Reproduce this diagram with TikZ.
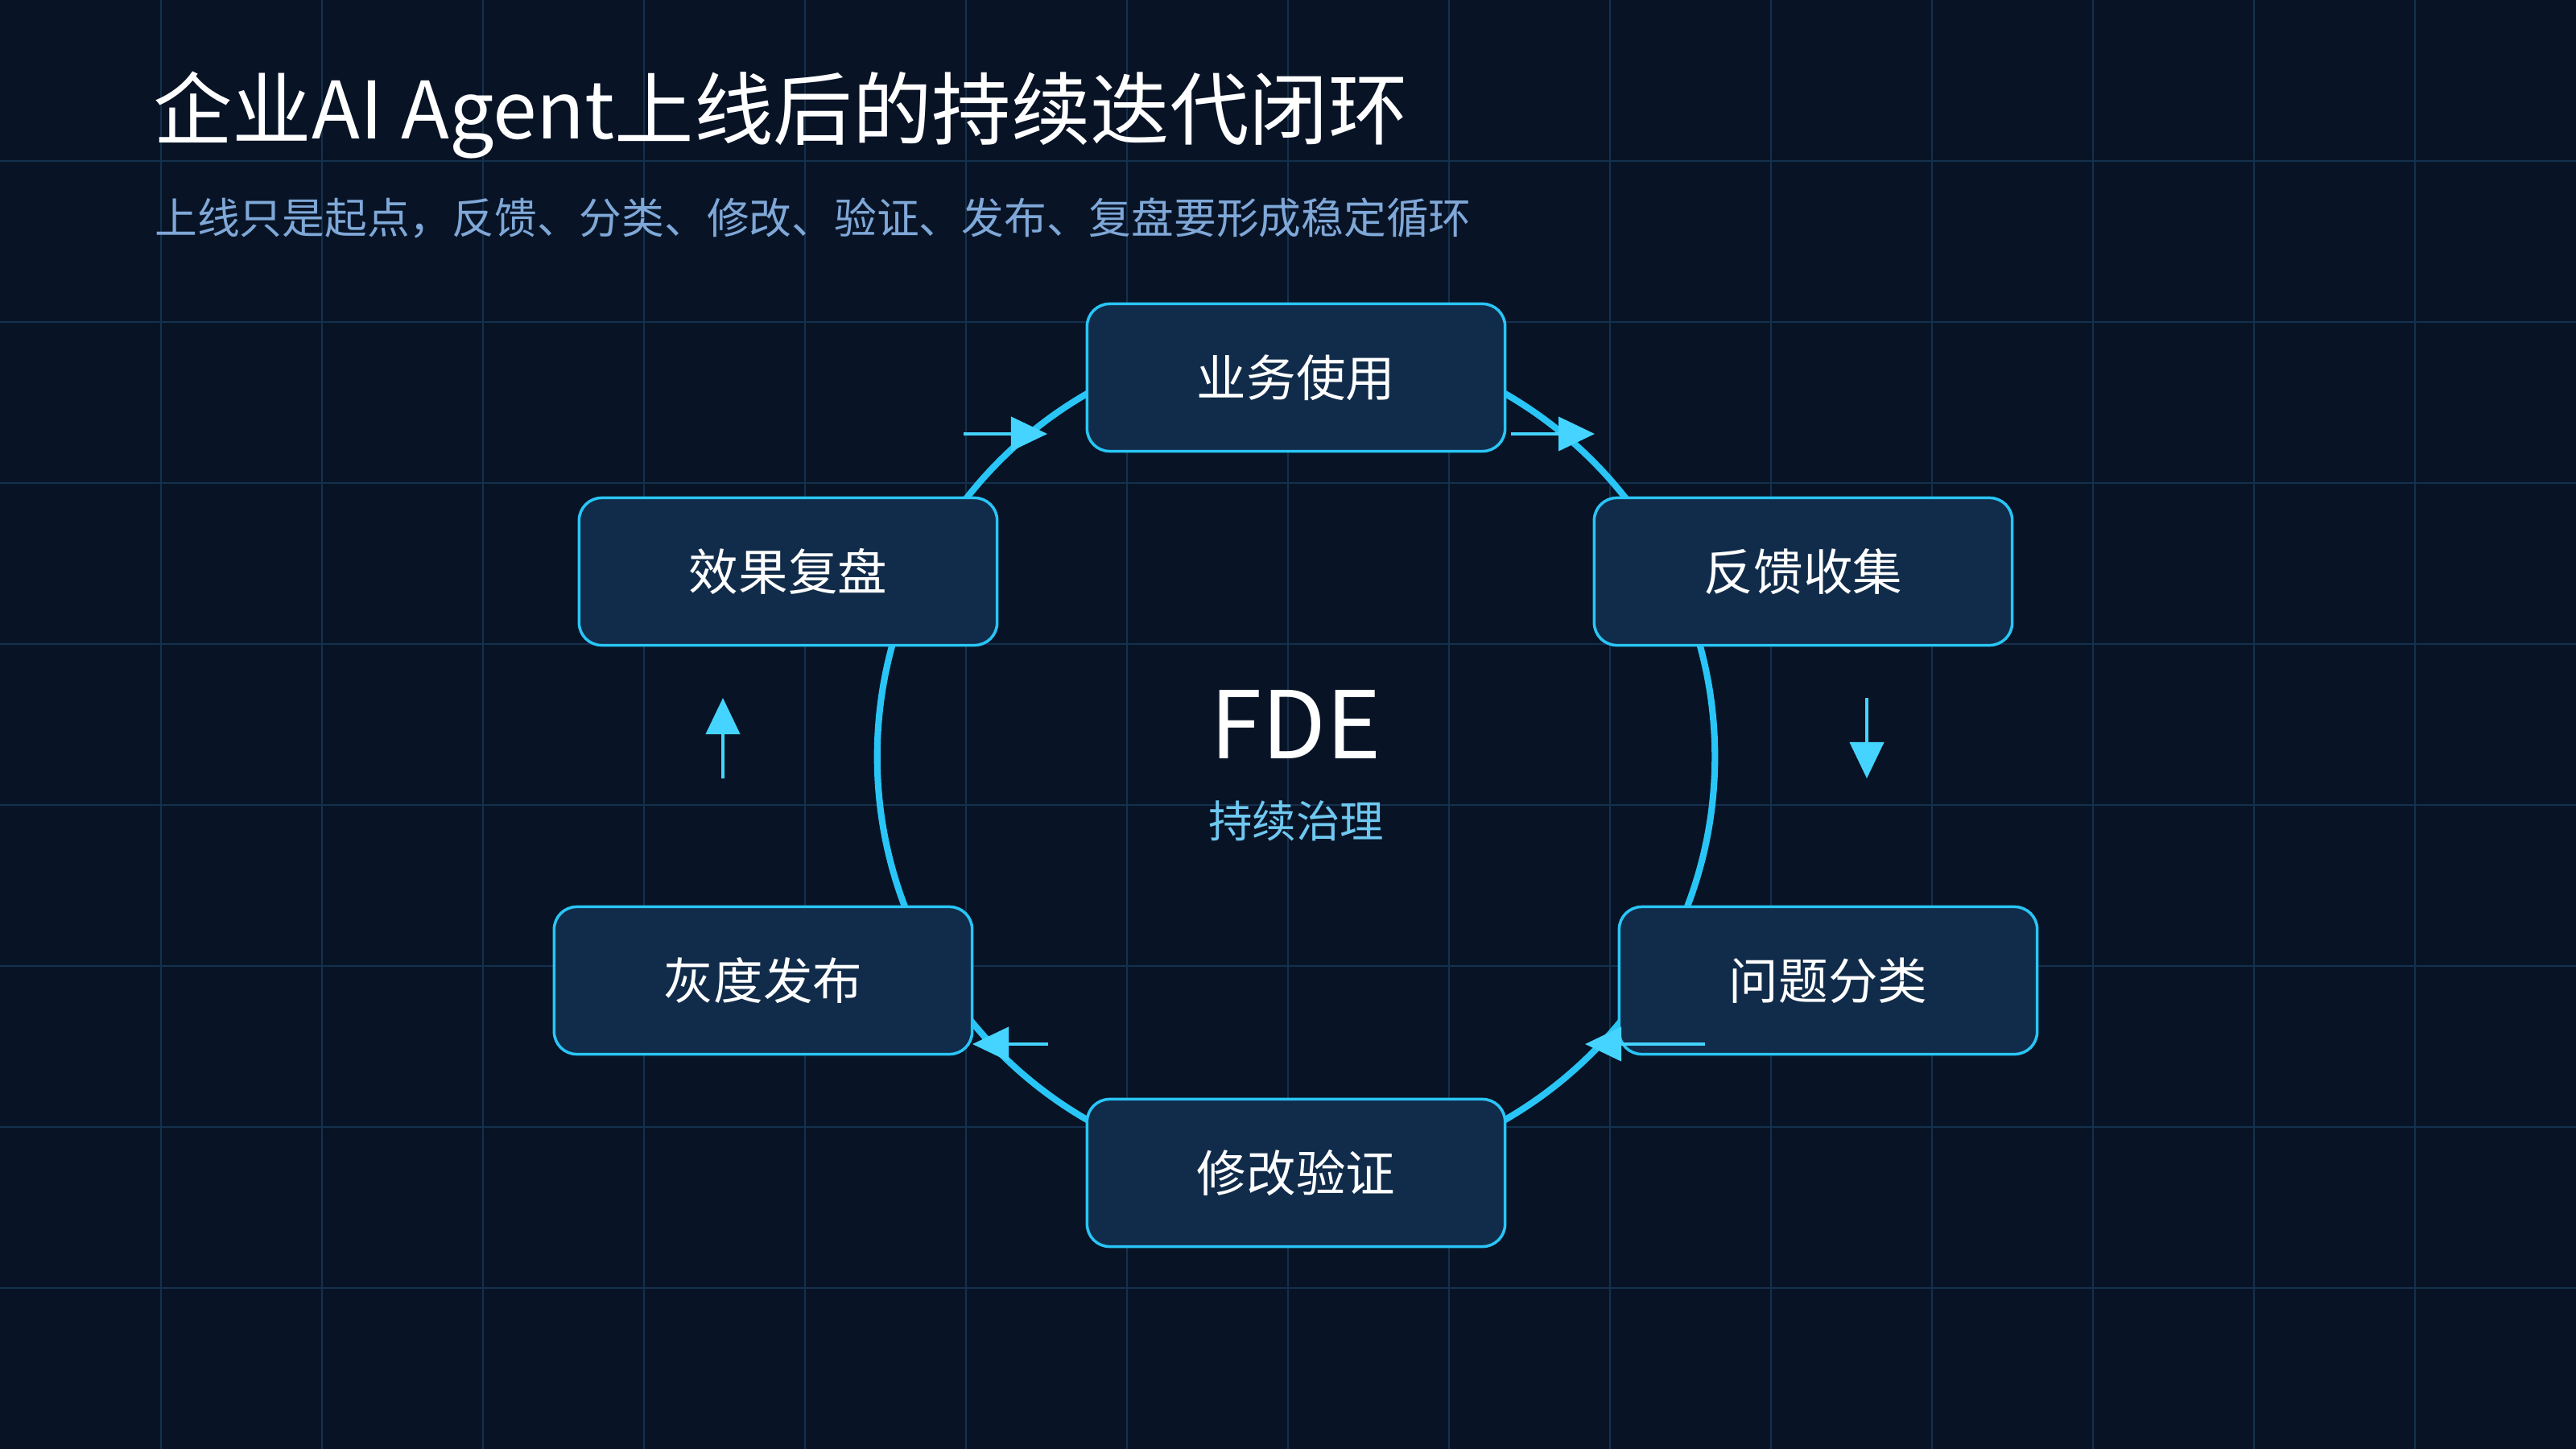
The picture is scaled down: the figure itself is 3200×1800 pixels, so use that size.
\documentclass[tikz,border=0pt]{standalone}
\usepackage{fontspec}
\setmainfont{Noto Sans CJK SC}
\usetikzlibrary{arrows.meta}
\definecolor{bg}{HTML}{081426}
\definecolor{gridc}{HTML}{14304E}
\definecolor{boxf}{HTML}{112C4A}
\definecolor{cyanl}{HTML}{29C5F6}
\definecolor{cyanA}{HTML}{45D4FF}
\definecolor{subc}{HTML}{7FA8D8}
\definecolor{fdesub}{HTML}{6FC8F0}
\tikzset{
 stage/.style={draw=cyanl,line width=1pt,fill=boxf,rounded corners=0.28cm,minimum width=5.19cm,minimum height=1.83cm,text=white,font=\fontsize{17.5}{20}\selectfont},
 flow/.style={cyanA,line width=1.2pt,-{Triangle[length=0.45cm,width=0.42cm]}},
}
\begin{document}
\begin{tikzpicture}[x=0.01cm,y=-0.01cm]
\fill[bg] (0,0) rectangle (3200,1800);
\useasboundingbox (0,0) rectangle (3200,1800);
\foreach \i in {200,400,...,3000} \draw[gridc,line width=0.6pt] (\i,0) -- (\i,1800);
\foreach \j in {200,400,...,1600} \draw[gridc,line width=0.6pt] (0,\j) -- (3200,\j);
\node[anchor=west,text=white,font=\fontsize{28}{32}\selectfont] (title) at (178,143) {企业AI Agent上线后的持续迭代闭环};
\node[anchor=west,text=subc,font=\fontsize{15}{18}\selectfont] (sub) at (180,271) {上线只是起点，反馈、分类、修改、验证、发布、复盘要形成稳定循环};
\coordinate (c) at (1610,940);
\draw[cyanl,line width=2.3pt] (c) circle[radius=5.2cm];
\node[stage] (a) at (1610,469) {业务使用};
\node[stage] (b) at (2240,710) {反馈收集};
\node[stage] (d) at (2271,1218) {问题分类};
\node[stage] (e) at (1610,1457) {修改验证};
\node[stage] (f) at (948,1218) {灰度发布};
\node[stage] (g) at (979,710) {效果复盘};
\node[text=white,font=\fontsize{33}{36}\selectfont] (fde) at (1610,900) {FDE};
\node[text=fdesub,font=\fontsize{15.5}{18}\selectfont] (fdes) at (1610,1020) {持续治理};
\coordinate (p1) at (1197,539); \coordinate (q1) at (1301,539);
\coordinate (p2) at (1877,539); \coordinate (q2) at (1981,539);
\coordinate (p3) at (2319,867); \coordinate (q3) at (2319,967);
\coordinate (p4) at (2118,1297); \coordinate (q4) at (1969,1297);
\coordinate (p5) at (1302,1297); \coordinate (q5) at (1208,1297);
\coordinate (p6) at (898,967); \coordinate (q6) at (898,867);
\foreach \k in {1,...,6} \draw[flow] (p\k) -- (q\k);
\end{tikzpicture}
\end{document}
